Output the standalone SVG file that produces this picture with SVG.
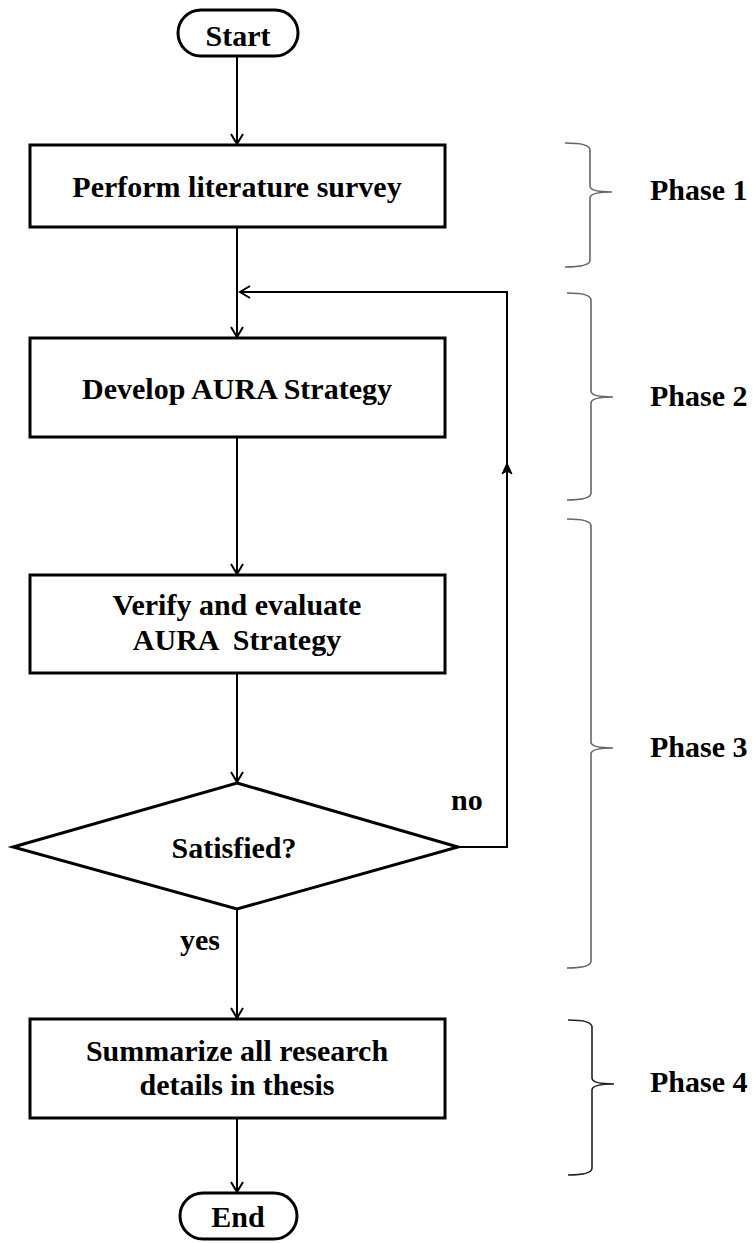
<svg xmlns="http://www.w3.org/2000/svg" width="756" height="1243" viewBox="0 0 756 1243">
<style>
  .shape { fill: #fff; stroke: #000; stroke-width: 3; }
  .conn { fill: none; stroke: #000; stroke-width: 2; }
  .brace { fill: none; stroke: #666; stroke-width: 1.6; }
  .brace.dark { stroke: #222; }
  .t { font-family: "Liberation Serif", "Times New Roman", serif; font-weight: bold; font-size: 30px; fill: #000; }
  .c { text-anchor: middle; }
</style>
<defs>
  <marker id="arr" markerWidth="14" markerHeight="14" viewBox="0 0 14 14" refX="12" refY="7" orient="auto" markerUnits="userSpaceOnUse">
    <path d="M2,1 L12,7 L2,13" fill="none" stroke="#000" stroke-width="2"/>
  </marker>
  <marker id="arrs" markerWidth="14" markerHeight="14" viewBox="0 0 14 14" refX="12" refY="7" orient="auto" markerUnits="userSpaceOnUse">
    <path d="M1,2 L12,7 L1,12 L4,7 Z" fill="#000" stroke="#000" stroke-width="1"/>
  </marker>
</defs>

<g id="connectors">
  <line class="conn" x1="237" y1="57" x2="237" y2="144" marker-end="url(#arr)"/>
  <line class="conn" x1="237" y1="228" x2="237" y2="337" marker-end="url(#arr)"/>
  <line class="conn" x1="237" y1="438" x2="237" y2="574" marker-end="url(#arr)"/>
  <line class="conn" x1="237" y1="674" x2="237" y2="782" marker-end="url(#arr)"/>
  <line class="conn" x1="237" y1="910" x2="237" y2="1018" marker-end="url(#arr)"/>
  <line class="conn" x1="237" y1="1119" x2="237" y2="1192" marker-end="url(#arr)"/>
  <path class="conn" d="M458,847 L507,847 L507,463" marker-end="url(#arrs)"/>
  <path class="conn" d="M507,465 L507,292 L240,292" marker-end="url(#arr)"/>
</g>

<g id="start">
  <rect class="shape" x="178" y="10" width="120" height="46" rx="23"/>
  <text class="t c" x="238" y="46">Start</text>
</g>

<g id="survey">
  <rect class="shape" x="30" y="145" width="415" height="82"/>
  <text class="t c" x="237" y="197">Perform literature survey</text>
</g>

<g id="develop">
  <rect class="shape" x="30" y="338" width="415" height="99"/>
  <text class="t c" x="237" y="399">Develop AURA Strategy</text>
</g>

<g id="verify">
  <rect class="shape" x="30" y="575" width="415" height="98"/>
  <text class="t c" x="237" y="615">Verify and evaluate</text>
  <text class="t c" x="237" y="650" xml:space="preserve">AURA  Strategy</text>
</g>

<g id="satisfied">
  <polygon class="shape" points="237,783 458,847 237,909 13,847"/>
  <text class="t c" x="234" y="858">Satisfied?</text>
  <text class="t" x="451" y="810">no</text>
  <text class="t" x="180" y="950">yes</text>
</g>

<g id="summarize">
  <rect class="shape" x="30" y="1019" width="415" height="99"/>
  <text class="t c" x="237" y="1061">Summarize all research</text>
  <text class="t c" x="237" y="1095">details in thesis</text>
</g>

<g id="end">
  <rect class="shape" x="180" y="1193" width="117" height="46" rx="23"/>
  <text class="t c" x="238" y="1227">End</text>
</g>

<g id="phase1">
  <path class="brace" d="M565,143 Q590,143 590,150 L590,186 Q590,192 612,192 M612,192 Q590,192 590,198 L590,260 Q590,267 565,267"/>
  <text class="t" x="650" y="200">Phase 1</text>
</g>

<g id="phase2">
  <path class="brace" d="M567,293 Q591,293 591,300 L591,391 Q591,397 613,397 M613,397 Q591,397 591,403 L591,493 Q591,500 567,500"/>
  <text class="t" x="650" y="406">Phase 2</text>
</g>

<g id="phase3">
  <path class="brace" d="M567,519 Q591,519 591,526 L591,742 Q591,748 613,748 M613,748 Q591,748 591,754 L591,961 Q591,968 567,968"/>
  <text class="t" x="650" y="757">Phase 3</text>
</g>

<g id="phase4">
  <path class="brace dark" d="M568,1020 Q592,1020 592,1027 L592,1078 Q592,1084 614,1084 M614,1084 Q592,1084 592,1090 L592,1168 Q592,1175 568,1175"/>
  <text class="t" x="650" y="1092">Phase 4</text>
</g>
</svg>
